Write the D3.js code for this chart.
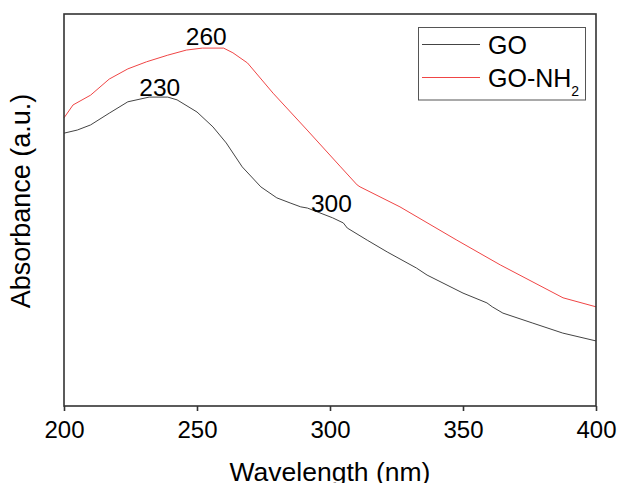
<!DOCTYPE html>
<html><head><meta charset="utf-8">
<script src="https://cdn.jsdelivr.net/npm/d3@7"></script>
<style>body{margin:0;background:#fff}svg{display:block}text{font-family:"Liberation Sans",Arial,sans-serif;fill:#000}</style>
</head><body><svg id="c" width="618" height="483"></svg>
<script>
const goWave = [200,205,210,217,224,232,239,242.5,250,256,261,267,274,280,285,289,291.5,301,305,306.5,314,321.5,332.5,336.5,350,359,361,365,376,387.5,400];
const goAbs  = [0.696,0.704,0.717,0.747,0.776,0.788,0.788,0.781,0.750,0.712,0.671,0.610,0.559,0.531,0.518,0.508,0.505,0.480,0.467,0.454,0.423,0.393,0.352,0.334,0.288,0.263,0.253,0.237,0.212,0.186,0.166];
const nh2Wave = [200,203.4,210,217,224,231,239,246,252,260,263.5,269,278.6,291.4,304,310.2,311.3,326.3,347.7,364,387.6,400];
const nh2Abs  = [0.735,0.768,0.793,0.834,0.860,0.878,0.895,0.908,0.913,0.913,0.901,0.875,0.798,0.704,0.610,0.564,0.559,0.508,0.423,0.360,0.276,0.253];
const xTicks = [200,250,300,350,400];
const seriesNames = ["GO","GO-NH"];
const seriesColors = ["#444444","#f04545"];
const peakLabels = ["230","260","300"];
const peakWave = [236,253.5,300.5];
const peakAbs = [0.791,0.921,0.496];

const svg = d3.select("#c");
const L=64,R=596,T=14,B=406;
const x = d3.scaleLinear().domain([200,400]).range([L,R]);
const y = d3.scaleLinear().domain([0,1]).range([B,T]);

const line = d3.line().x(d=>x(d[0])).y(d=>y(d[1]));
const goData = goWave.map((w,i)=>[w,goAbs[i]]);
const nhData = nh2Wave.map((w,i)=>[w,nh2Abs[i]]);

svg.append("path").datum(goData).attr("d",line).attr("fill","none").attr("stroke",seriesColors[0]).attr("stroke-width",1);
svg.append("path").datum(nhData).attr("d",line).attr("fill","none").attr("stroke",seriesColors[1]).attr("stroke-width",1);

// frame
svg.append("rect").attr("x",L).attr("y",T).attr("width",R-L).attr("height",B-T)
  .attr("fill","none").attr("stroke","#333").attr("stroke-width",1.6);

// x axis
const xa = svg.append("g").attr("transform",`translate(0,${B})`)
  .call(d3.axisBottom(x).tickValues(xTicks).tickSize(5).tickPadding(10).tickFormat(d3.format("d")));
xa.select(".domain").remove();
xa.selectAll(".tick line").attr("stroke","#333").attr("stroke-width",1.6);
xa.selectAll(".tick text").attr("font-size","24px").attr("font-family","Liberation Sans, Arial, sans-serif").attr("fill","#000");

// axis titles
svg.append("text").attr("x",330).attr("y",481).attr("text-anchor","middle").attr("font-size","26.5px").text("Wavelength (nm)");
svg.append("text").attr("transform","translate(30,201) rotate(-90)").attr("text-anchor","middle").attr("font-size","27px").text("Absorbance (a.u.)");

// peak labels
peakLabels.forEach((t,i)=>{
  svg.append("text").attr("x",x(peakWave[i])).attr("y",y(peakAbs[i])).attr("text-anchor","middle").attr("font-size","24.5px").text(t);
});

// legend
const lg = svg.append("g");
lg.append("rect").attr("x",418.5).attr("y",27.5).attr("width",167).attr("height",72.5).attr("fill","#fff").attr("stroke","#555").attr("stroke-width",1);
const ly = [44.5,77.5];
seriesNames.forEach((n,i)=>{
  lg.append("line").attr("x1",422).attr("x2",480).attr("y1",ly[i]).attr("y2",ly[i]).attr("stroke",seriesColors[i]).attr("stroke-width",1);
  const t = lg.append("text").attr("x",488).attr("y",ly[i]+9).attr("font-size","25px").text(n);
  if(i===1) t.append("tspan").attr("font-size","14px").attr("dy",9).text("2");
});
</script></body></html>
